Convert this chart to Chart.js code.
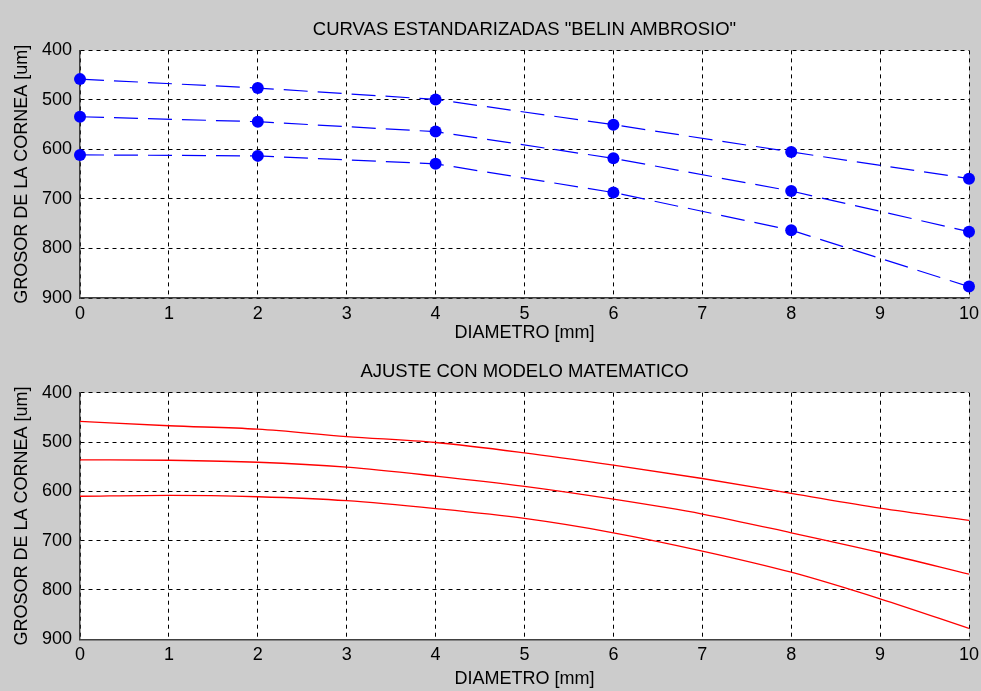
<!DOCTYPE html>
<html>
<head>
<meta charset="utf-8">
<script src="https://cdn.jsdelivr.net/npm/chart.js@4.4.1/dist/chart.umd.min.js"></script>
<style>
  html, body { margin: 0; padding: 0; background: #cccccc; }
  body { width: 981px; height: 691px; position: relative; overflow: hidden; }
  canvas { position: absolute; left: 0; display: block; }
  #c1 { top: 0; }
  #c2 { top: 345px; }
</style>
</head>
<body>
<canvas id="c1" width="981" height="345"></canvas>
<canvas id="c2" width="981" height="346"></canvas>
<script>
// ---- data ----
const titleTop = 'CURVAS ESTANDARIZADAS "BELIN AMBROSIO"';
const titleBottom = 'AJUSTE CON MODELO MATEMATICO';
const xAxisTitle = 'DIAMETRO [mm]';
const yAxisTitle = 'GROSOR DE LA CORNEA [um]';

const xTicks = [0, 1, 2, 3, 4, 5, 6, 7, 8, 9, 10];
const yTicks = [400, 500, 600, 700, 800, 900];

// standardized curves (measured points)
const diametros = [0, 2, 4, 6, 8, 10];
const curvaA = [458, 476, 499, 550, 605, 659];
const curvaB = [534, 544, 564, 618, 684, 766];
const curvaC = [611, 613, 629, 687, 763, 877];

// fitted model curves
const diametroModelo = [0, 1, 2, 3, 4, 5, 6, 7, 8, 9, 10];
const modeloA = [458, 467, 474, 489, 501, 522, 547, 574, 604, 634, 659];
const modeloB = [536, 537, 541, 551, 569, 590, 616, 646, 684, 724, 768];
const modeloC = [610, 608, 611, 619, 635, 655, 684, 721, 764, 818, 878];

// ---- helpers ----
const FONT = "'Liberation Sans', Arial, Helvetica, sans-serif";
const toXY = (xs, ys) => xs.map((x, i) => ({ x: x, y: ys[i] }));

const plotBg = {
  id: 'plotBg',
  beforeDraw(chart) {
    const { ctx, chartArea: a } = chart;
    ctx.save();
    ctx.fillStyle = '#ffffff';
    ctx.fillRect(a.left, a.top, a.right - a.left, a.bottom - a.top);
    ctx.restore();
  }
};

function makeOptions(title, titlePad, xHeight, xTitlePadBottom) {
  return {
    responsive: false,
    animation: false,
    devicePixelRatio: 1,
    layout: { padding: { left: 0, right: 12, top: 0, bottom: 0 } },
    plugins: {
      legend: { display: false },
      tooltip: { enabled: false },
      title: {
        display: true,
        text: title,
        fullSize: false,
        color: '#000000',
        font: { family: FONT, size: 18.5, weight: 'normal', lineHeight: 1.2 },
        padding: titlePad
      }
    },
    scales: {
      x: {
        type: 'linear',
        position: 'bottom',
        min: 0, max: 10,
        afterBuildTicks: s => { s.ticks = xTicks.map(v => ({ value: v })); },
        afterFit: s => { s.height = xHeight; s.paddingLeft = 0; s.paddingRight = 0; },
        ticks: { color: '#000000', font: { family: FONT, size: 18 }, padding: 5, maxRotation: 0, autoSkip: false },
        grid: { color: '#000000', lineWidth: 1, drawTicks: false },
        border: { display: true, color: '#404040', width: 1.5, dash: [4, 4] },
        title: {
          display: true, text: xAxisTitle, color: '#000000',
          font: { family: FONT, size: 18, weight: 'normal', lineHeight: 1.2 },
          padding: { top: 0, bottom: xTitlePadBottom }
        }
      },
      y: {
        type: 'linear',
        position: 'left',
        reverse: true,
        min: 400, max: 900,
        afterBuildTicks: s => { s.ticks = yTicks.map(v => ({ value: v })); },
        afterFit: s => { s.width = 80; s.paddingTop = 0; s.paddingBottom = 0; },
        ticks: { color: '#000000', font: { family: FONT, size: 18 }, padding: 8, autoSkip: false },
        grid: { color: '#000000', lineWidth: 1, drawTicks: false },
        border: { display: true, color: '#404040', width: 1.5, dash: [4, 4] },
        title: {
          display: true, text: yAxisTitle, color: '#000000',
          font: { family: FONT, size: 18, weight: 'normal', lineHeight: 1.2 },
          padding: { top: 11.7, bottom: 0 }
        }
      }
    }
  };
}

function blueSet(ys) {
  return {
    data: toXY(diametros, ys),
    borderColor: '#0000ff',
    borderWidth: 1.2,
    borderDash: [24, 10],
    tension: 0,
    pointRadius: 6,
    pointBackgroundColor: '#0000ff',
    pointBorderColor: '#0000ff',
    pointBorderWidth: 0,
    clip: false
  };
}
function redSet(ys) {
  return {
    data: toXY(diametroModelo, ys),
    borderColor: '#ff0000',
    borderWidth: 1.3,
    cubicInterpolationMode: 'monotone',
    pointRadius: 0
  };
}

new Chart(document.getElementById('c1'), {
  type: 'line',
  data: { datasets: [blueSet(curvaA), blueSet(curvaB), blueSet(curvaC)] },
  options: makeOptions(titleTop, { top: 19.2, bottom: 9.0 }, 47, 1.2),
  plugins: [plotBg]
});

new Chart(document.getElementById('c2'), {
  type: 'line',
  data: { datasets: [redSet(modeloA), redSet(modeloB), redSet(modeloC)] },
  options: makeOptions(titleBottom, { top: 15.4, bottom: 10.1 }, 51.7, 1.2),
  plugins: [plotBg]
});
</script>
</body>
</html>
